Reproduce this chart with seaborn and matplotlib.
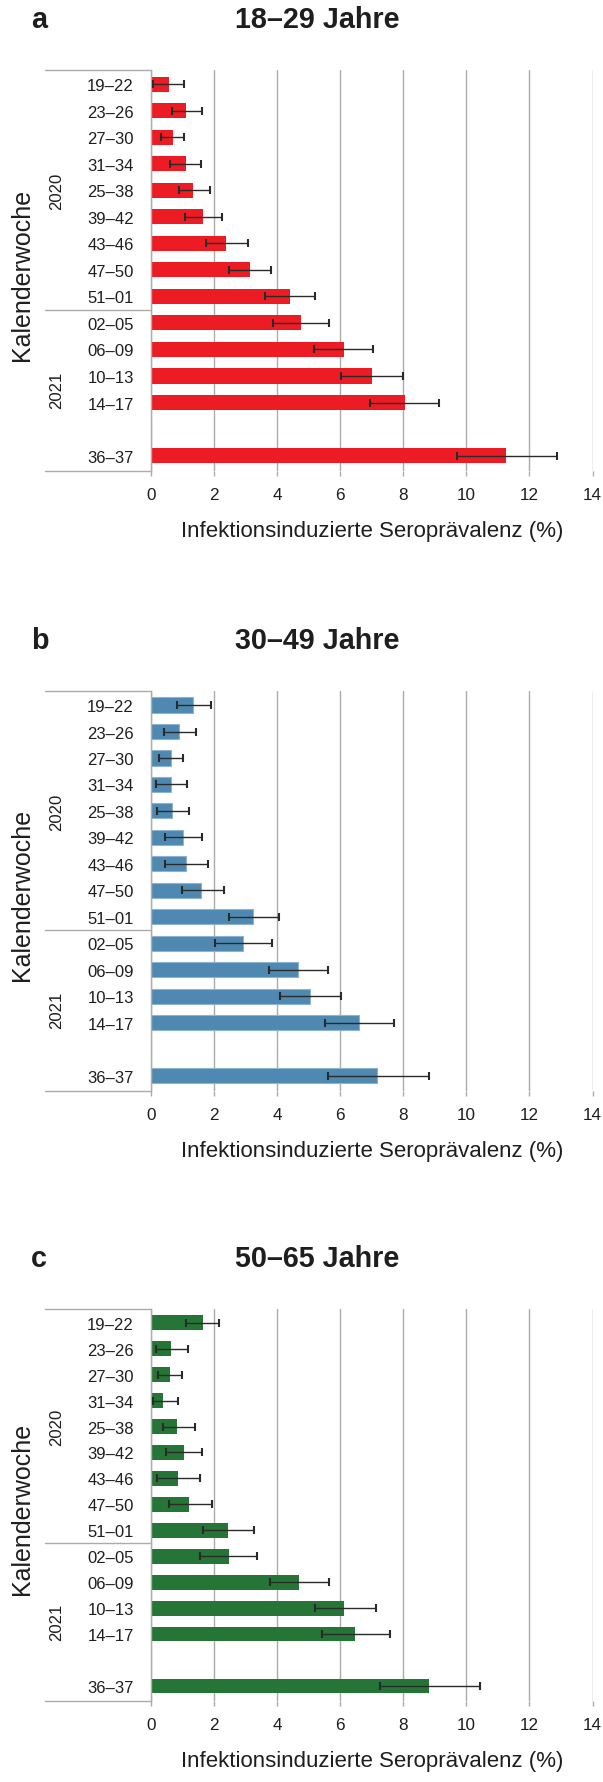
import matplotlib
matplotlib.use("Agg")
import matplotlib.pyplot as plt
import matplotlib.transforms as mtransforms
import numpy as np
import pandas as pd
import seaborn as sns

# Kalenderwochen (2020: 19-22 ... 51-01, 2021: 02-05 ... 36-37)
weeks = ["19–22", "23–26", "27–30", "31–34", "25–38", "39–42", "43–46",
         "47–50", "51–01", "02–05", "06–09", "10–13", "14–17", "36–37"]

# 18-29 Jahre
a_val = [0.56, 1.12, 0.69, 1.10, 1.34, 1.66, 2.39, 3.13, 4.40, 4.75, 6.12, 7.00, 8.05, 11.26]
a_lo = [0.05, 0.66, 0.33, 0.61, 0.88, 1.09, 1.73, 2.47, 3.61, 3.86, 5.17, 6.01, 6.95, 9.70]
a_hi = [1.06, 1.61, 1.06, 1.58, 1.87, 2.25, 3.07, 3.80, 5.21, 5.65, 7.04, 7.99, 9.13, 12.88]

# 30-49 Jahre
b_val = [1.34, 0.90, 0.62, 0.65, 0.68, 1.00, 1.12, 1.60, 3.25, 2.91, 4.65, 5.03, 6.60, 7.16]
b_lo = [0.83, 0.42, 0.26, 0.17, 0.20, 0.45, 0.45, 0.97, 2.48, 2.04, 3.73, 4.08, 5.52, 5.61]
b_hi = [1.89, 1.43, 1.00, 1.14, 1.22, 1.61, 1.80, 2.31, 4.06, 3.84, 5.61, 6.01, 7.70, 8.80]

# 50-65 Jahre
c_val = [1.64, 0.65, 0.59, 0.37, 0.84, 1.06, 0.87, 1.22, 2.43, 2.46, 4.68, 6.12, 6.46, 8.82]
c_lo = [1.12, 0.17, 0.22, 0.05, 0.37, 0.49, 0.20, 0.57, 1.65, 1.56, 3.76, 5.20, 5.41, 7.26]
c_hi = [2.17, 1.16, 0.97, 0.87, 1.39, 1.62, 1.56, 1.92, 3.26, 3.37, 5.64, 7.12, 7.59, 10.44]

# leere Zeile zwischen 14-17 und 36-37
order = weeks[:13] + [" "] + weeks[13:]

W, H = 603, 1783
TXT = "#1e1e1e"
LINE = "#ababab"

sns.set_theme(style="white")
plt.rcParams['font.family'] = ['Liberation Sans', 'DejaVu Sans']


def draw_panel(fig, top_px, bottom_px, letter, title, vals, lo, hi, color, edge):
    left_px, right_px = 151, 592.5
    ax = fig.add_axes([left_px / W, 1 - bottom_px / H,
                       (right_px - left_px) / W, (bottom_px - top_px) / H])
    df = pd.DataFrame({"woche": weeks, "wert": vals})
    sns.barplot(data=df, x="wert", y="woche", order=order, color=color,
                saturation=1, width=0.57, errorbar=None, edgecolor=edge,
                linewidth=0.8 if edge != color else 0, ax=ax)

    vals = np.array(vals)
    pos = [order.index(w) for w in weeks]
    ax.errorbar(vals, pos, xerr=[vals - np.array(lo), np.array(hi) - vals],
                fmt="none", ecolor="#2a2a2a", elinewidth=1.0, capsize=3.1,
                capthick=1.5, zorder=4)

    ax.set_xlim(0, 14)
    ax.set_xticks(range(0, 15, 2))
    ax.set_ylim(14.58, -0.53)
    ax.grid(axis="x", color=LINE, lw=1.0)
    ax.set_axisbelow(True)
    for s in ["top", "right", "bottom"]:
        ax.spines[s].set_visible(False)
    ax.spines["left"].set_color(LINE)
    ax.spines["left"].set_linewidth(1.0)
    ax.tick_params(axis="x", bottom=True, length=3.3, width=1.0, color=LINE,
                   pad=8.5, labelsize=12.3, labelcolor=TXT)
    ax.tick_params(axis="y", left=False, length=0, pad=12.5, labelsize=12,
                   labelcolor=TXT)

    ax.set_ylabel("")
    ax.set_xlabel("Infektionsinduzierte Seroprävalenz (%)", fontsize=16, color=TXT)
    ax.xaxis.set_label_coords(0.5, -60 / (bottom_px - top_px))
    ax.xaxis.label.set_va("center")

    # Jahresklammern links
    x0 = -(151 - 45) / (right_px - left_px)
    ax.plot([x0, 0], [1, 1], transform=ax.transAxes, color=LINE, lw=1.0, clip_on=False)
    ax.plot([x0, 0], [0, 0], transform=ax.transAxes, color=LINE, lw=1.0, clip_on=False)
    tr = mtransforms.blended_transform_factory(ax.transAxes, ax.transData)
    ax.plot([x0, 0], [8.5, 8.5], transform=tr, color=LINE, lw=1.0, clip_on=False)

    trf = mtransforms.blended_transform_factory(fig.transFigure, ax.transData)
    ax.text(57 / W, 4, "2020", transform=trf, rotation=90, ha="center", va="center",
            fontsize=12, color=TXT)
    ax.text(57 / W, 11.5, "2021", transform=trf, rotation=90, ha="center", va="center",
            fontsize=12, color=TXT)

    fig.text(22.5 / W, 1 - ((top_px + bottom_px) / 2 + 3) / H, "Kalenderwoche",
             rotation=90, ha="center", va="center", fontsize=18, color=TXT)

    ty = 1 - (top_px - 51) / H
    fig.text(317 / W, ty, title, ha="center", va="center", fontsize=20.7,
             fontweight="bold", color=TXT)
    fig.text(31 / W, ty, letter, ha="left", va="center", fontsize=20.7,
             fontweight="bold", color=TXT)
    return ax


fig = plt.figure(figsize=(W / 100, H / 100), dpi=100)
draw_panel(fig, 71, 472, "a", "18–29 Jahre", a_val, a_lo, a_hi, "#ed1c24", "#ed1c24")
draw_panel(fig, 692, 1092, "b", "30–49 Jahre", b_val, b_lo, b_hi, "#4f89b1", "#8db3d1")
draw_panel(fig, 1310, 1702, "c", "50–65 Jahre", c_val, c_lo, c_hi, "#257536", "#257536")

fig.savefig("out.png", dpi=100)
